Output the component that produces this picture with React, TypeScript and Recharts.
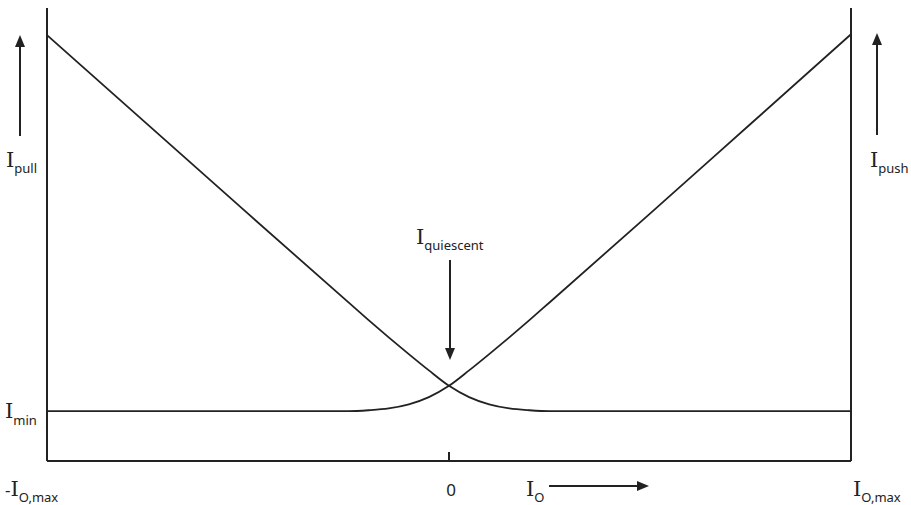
import React from "react";
import { LineChart, Line, XAxis, YAxis, ReferenceLine } from "recharts";

// output current, normalised to I_O,max
const ioPoints = [-1, -0.75, -0.5, -0.25, -0.2, -0.15, -0.1, -0.05, 0, 0.05, 0.1, 0.15, 0.2, 0.25, 0.5, 0.75, 1];
const pullValues = [0.94, 0.743, 0.546, 0.35, 0.311, 0.273, 0.236, 0.2, 0.166, 0.141, 0.125, 0.116, 0.112, 0.11, 0.11, 0.11, 0.11];
const pushValues = [0.11, 0.11, 0.11, 0.11, 0.112, 0.116, 0.125, 0.141, 0.166, 0.2, 0.236, 0.273, 0.311, 0.35, 0.546, 0.744, 0.942];
const iMin = 0.11;
const xTicks = [-1, 0, 1];

const chartData = ioPoints.map((x, i) => ({ x, pull: pullValues[i], push: pushValues[i] }));

const INK = "#222";
const BIG = "DejaVu Serif";
const SMALL = "Noto Sans";

function Sub({ x, y, main, sub, drop = 7, anchor = "start" }: any) {
  return (
    <text x={x} y={y} fill={INK} textAnchor={anchor}>
      <tspan fontFamily={BIG} fontSize={21}>{main}</tspan>
      <tspan fontFamily={SMALL} fontSize={13} dy={drop}>{sub}</tspan>
    </text>
  );
}

function Arrow({ x1, y1, x2, y2 }: any) {
  const a = Math.atan2(y2 - y1, x2 - x1);
  const len = 12;
  const hw = 5;
  const bx = x2 - len * Math.cos(a);
  const by = y2 - len * Math.sin(a);
  const px = -Math.sin(a) * hw;
  const py = Math.cos(a) * hw;
  return (
    <g>
      <line x1={x1} y1={y1} x2={bx} y2={by} stroke={INK} strokeWidth={2} />
      <polygon points={`${x2},${y2} ${bx + px},${by + py} ${bx - px},${by - py}`} fill={INK} />
    </g>
  );
}

const LeftTick = ({ y }: any) => <Sub x={5} y={y + 7} main="I" sub="min" />;
const RightTick = ({ y }: any) => <Sub x={862} y={y + 7} main="I" sub="min" />;

const XTick = ({ x, payload }: any) => {
  if (payload.value === 0) {
    return (
      <text x={x + 2} y={496} fill={INK} textAnchor="middle" fontFamily={SMALL} fontSize={17}>
        0
      </text>
    );
  }
  if (payload.value < 0) {
    return (
      <text x={5} y={496} fill={INK}>
        <tspan fontFamily={SMALL} fontSize={17}>-</tspan>
        <tspan fontFamily={BIG} fontSize={21}>I</tspan>
        <tspan fontFamily={SMALL} fontSize={13} dy={6}>O,max</tspan>
      </text>
    );
  }
  return <Sub x={853} y={496} main="I" sub="O,max" drop={6} />;
};

export default function App() {
  return (
    <div style={{ position: "absolute", left: 0, top: 0, width: 911, height: 505, background: "#fff" }}>
      <LineChart width={911} height={505} data={chartData} margin={{ top: 8, right: 0, bottom: 0, left: 0 }}>
        <XAxis
          dataKey="x"
          type="number"
          domain={[-1, 1]}
          ticks={xTicks}
          height={44}
          tickLine={false}
          axisLine={{ stroke: INK, strokeWidth: 2 }}
          tick={<XTick />}
          interval={0}
        />
        <YAxis
          yAxisId="left"
          type="number"
          domain={[0, 1]}
          ticks={[iMin]}
          width={47}
          tickLine={false}
          axisLine={{ stroke: INK, strokeWidth: 2 }}
          tick={<LeftTick />}
        />
        <YAxis
          yAxisId="right"
          orientation="right"
          type="number"
          domain={[0, 1]}
          ticks={[iMin]}
          width={60}
          tickLine={false}
          axisLine={{ stroke: INK, strokeWidth: 2 }}
          tick={<RightTick />}
        />
        <ReferenceLine
          yAxisId="left"
          segment={[{ x: 0, y: 0 }, { x: 0, y: 0.02 }]}
          stroke={INK}
          strokeWidth={2}
        />
        <Line yAxisId="left" type="monotone" dataKey="pull" stroke={INK} strokeWidth={1.8} dot={false} isAnimationActive={false} />
        <Line yAxisId="left" type="monotone" dataKey="push" stroke={INK} strokeWidth={1.8} dot={false} isAnimationActive={false} />
      </LineChart>
      <svg width={911} height={505} style={{ position: "absolute", left: 0, top: 0, pointerEvents: "none" }}>
        <Arrow x1={20} y1={136} x2={20} y2={35} />
        <Sub x={6} y={167} main="I" sub="pull" drop={6} />
        <Arrow x1={877} y1={135} x2={877} y2={33} />
        <Sub x={870} y={167} main="I" sub="push" drop={6} />
        <Sub x={416} y={244} main="I" sub="quiescent" drop={6} />
        <Arrow x1={450} y1={260} x2={450} y2={360} />
        <Sub x={526} y={496} main="I" sub="O" drop={6} />
        <Arrow x1={549} y1={486} x2={649} y2={486} />
      </svg>
    </div>
  );
}
